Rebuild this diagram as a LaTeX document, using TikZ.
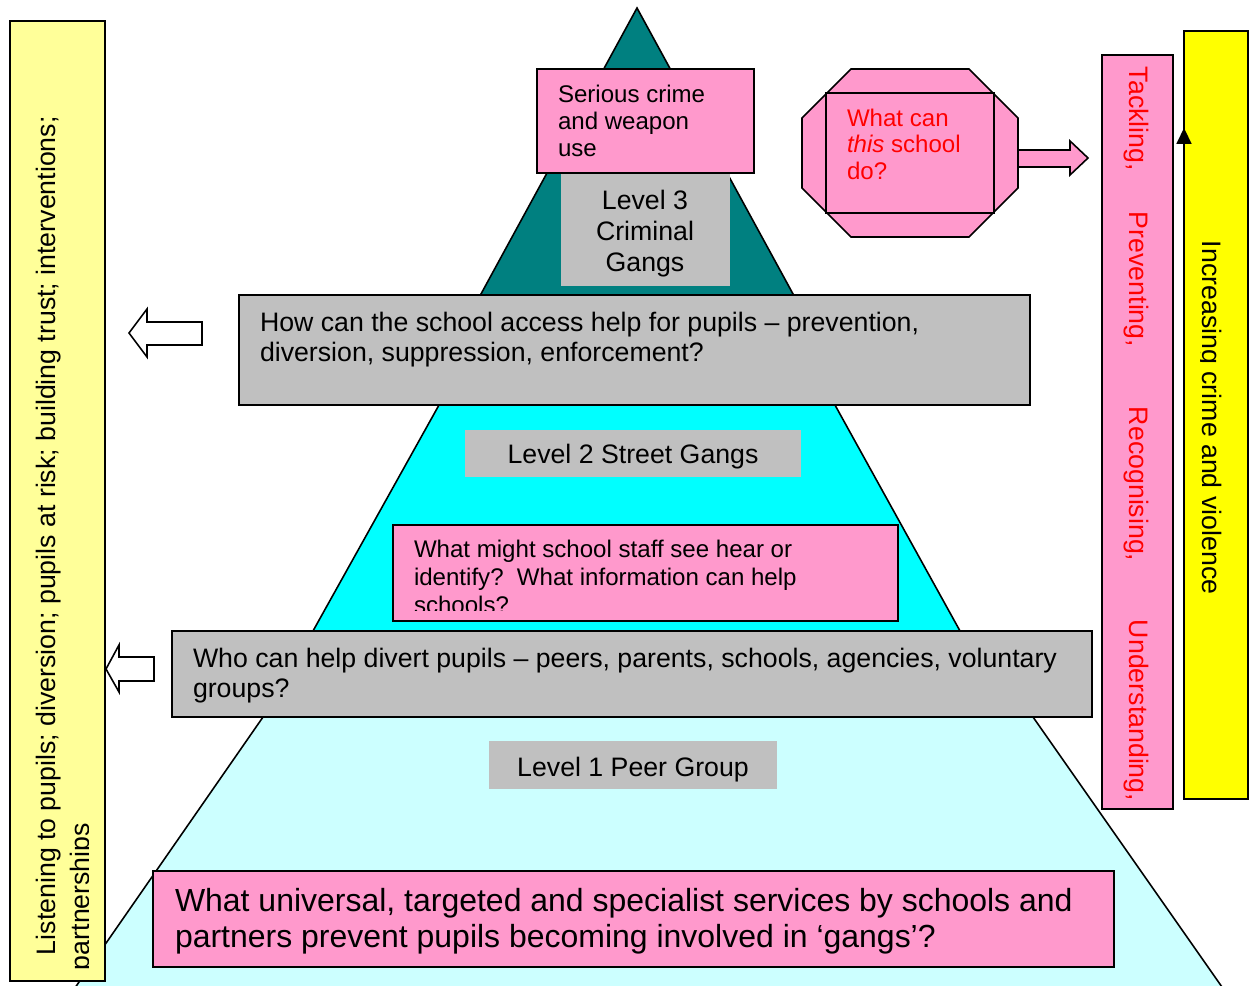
\documentclass[tikz,border=0pt]{standalone}
\usepackage{fontspec}
\setmainfont{Liberation Sans}
\usetikzlibrary{fit,arrows.meta}
\definecolor{cteal}{HTML}{008080}
\definecolor{ccyan}{HTML}{00FFFF}
\definecolor{clcyan}{HTML}{CCFFFF}
\definecolor{cgray}{HTML}{C0C0C0}
\definecolor{cpink}{HTML}{FF99CC}
\definecolor{clyellow}{HTML}{FFFF99}
\definecolor{cyellow}{HTML}{FFFF00}
\definecolor{cred}{HTML}{FF0000}
\begin{document}
\begin{tikzpicture}[x=0.02cm,y=-0.02cm,
  edge/.style={draw=black,line width=0.9pt,line join=miter},
  plainbox/.style={inner sep=0pt,outer sep=0pt,draw=none},
  framed/.style={inner sep=0pt,outer sep=0pt,draw=black,line width=0.9pt},
  txt/.style={inner sep=0pt,outer sep=0pt,anchor=base west},
  ctxt/.style={inner sep=0pt,outer sep=0pt,anchor=base},
  fmid/.style={font=\fontsize{15.2}{17}\selectfont},
  fsmall/.style={font=\fontsize{13.7}{15.3}\selectfont},
  fbig/.style={font=\fontsize{18.2}{21}\selectfont},
  blockarrow/.style={draw=black,line width=0.9pt,line join=miter}
]
\useasboundingbox (0,0) rectangle (1255,986);

% pyramid layers
\filldraw[fill=cteal, edge] (637,8) -- (796.3,300) -- (477.7,300) -- cycle;
\filldraw[fill=ccyan, edge] (441.8,400) -- (832.2,400) -- (962.8,636) -- (310.2,636) -- cycle;
\filldraw[fill=clcyan, edge] (266.5,712) -- (1029.5,712) -- (1224.1,990) -- (73.5,990) -- cycle;

% level boxes
\node[plainbox, fill=cgray, fit={(561,173)(730,286)}] (lvl3) {};
\node[ctxt, fmid] (lvl3txt) at (645,209.5) {\parbox[t]{5cm}{\centering\fontsize{15.2}{17.6}\selectfont Level 3\\Criminal\\Gangs}};
\node[framed, fill=cpink, fit={(537,69)(754,173)}] (serious) {};
\node[txt, fsmall] (serioustxt) at (558,103) {\parbox[t]{6cm}{\raggedright Serious crime\\and weapon\\use}};

\node[plainbox, fill=cgray, fit={(465,430)(801,477)}] (lvl2) {};
\node[ctxt, fmid] (lvl2txt) at (633,464) {Level 2 Street Gangs};

\node[framed, fill=cpink, fit={(393,525)(898,621)}] (staff) {};
\begin{scope}
\clip (393,525) rectangle (898,610);
\node[txt, fsmall] (stafftxt) at (414,558) {\parbox[t]{12cm}{\raggedright\fontsize{13.7}{15.9}\selectfont What might school staff see hear or\\identify?\ \ What information can help\\schools?}};
\end{scope}

\node[plainbox, fill=cgray, fit={(489,741)(777,789)}] (lvl1) {};
\node[ctxt, fmid] (lvl1txt) at (633,776) {Level 1 Peer Group};

% grey question boxes
\node[framed, fill=cgray, fit={(239,295)(1030,405)}] (access) {};
\node[txt, fmid] (accesstxt) at (260,332) {\parbox[t]{18cm}{\raggedright How can the school access help for pupils – prevention,\\diversion, suppression, enforcement?}};

\node[framed, fill=cgray, fit={(172,631)(1092,717)}] (divert) {};
\node[txt, fmid] (diverttxt) at (193,667) {\parbox[t]{20cm}{\raggedright\fontsize{15.2}{17.6}\selectfont Who can help divert pupils – peers, parents, schools, agencies, voluntary\\groups?}};

% bottom pink
\node[framed, fill=cpink, fit={(153,871)(1114,967)}] (universal) {};
\node[txt, fbig] (universaltxt) at (175,911) {\parbox[t]{20cm}{\raggedright What universal, targeted and specialist services by schools and\\partners prevent pupils becoming involved in ‘gangs’?}};

% left yellow column
\node[framed, fill=clyellow, fit={(10,21)(105,981)}] (listen) {};
\begin{scope}
\clip (10,21) rectangle (88,981);
\node[txt, fmid, rotate=90] (listentxt) at (55,955) {Listening to pupils; diversion; pupils at risk; building trust; interventions;};
\node[txt, fmid, rotate=90] (listentxtb) at (89,970) {partnerships};
\end{scope}

% left block arrows
\filldraw[fill=white, blockarrow] (129,333) -- (147,309) -- (147,322) -- (202,322) -- (202,345) -- (147,345) -- (147,357) -- cycle;
\filldraw[fill=white, blockarrow] (106,669) -- (119,645) -- (119,657) -- (154,657) -- (154,681) -- (119,681) -- (119,692) -- cycle;

% octagon
\filldraw[fill=cpink, edge] (851,69) -- (969,69) -- (1018,118) -- (1018,188) -- (969,237) -- (851,237) -- (802,188) -- (802,118) -- cycle;
\node[framed, fill=cpink, fit={(826,93)(994,213)}] (thisschool) {};
\node[txt, fsmall, text=cred] (thisschooltxt) at (847,127) {\parbox[t]{4cm}{\raggedright\fontsize{13.7}{14.8}\selectfont What can\\\textit{this} school\\do?}};

% right block arrow
\filldraw[fill=cpink, blockarrow] (1018,150) -- (1070,150) -- (1070,141) -- (1088,158) -- (1070,175) -- (1070,167) -- (1018,167) -- cycle;

% tall pink bar
\node[framed, fill=cpink, fit={(1102,55)(1173,809)}] (tackle) {};
\node[txt, fmid, text=cred, rotate=-90] (w1) at (1129,67) {Tackling,};
\node[txt, fmid, text=cred, rotate=-90] (w2) at (1129,212) {Preventing,};
\node[txt, fmid, text=cred, rotate=-90] (w3) at (1129,407) {Recognising,};
\node[txt, fmid, text=cred, rotate=-90] (w4) at (1129,620) {Understanding,};

% right yellow bar
\node[framed, fill=cyellow, fit={(1184,31)(1248,799)}] (increase) {};
\begin{scope}
\clip (1200,31) rectangle (1248,799);
\node[txt, fmid, rotate=-90] (increasetxt) at (1202,241) {Increasing crime and violence};
\end{scope}
\coordinate (uptip) at (1184,128);
\draw[line width=0.9pt, -{Triangle[length=9pt,width=8.5pt]}] (increase.south west) -- (uptip);
\end{tikzpicture}
\end{document}
